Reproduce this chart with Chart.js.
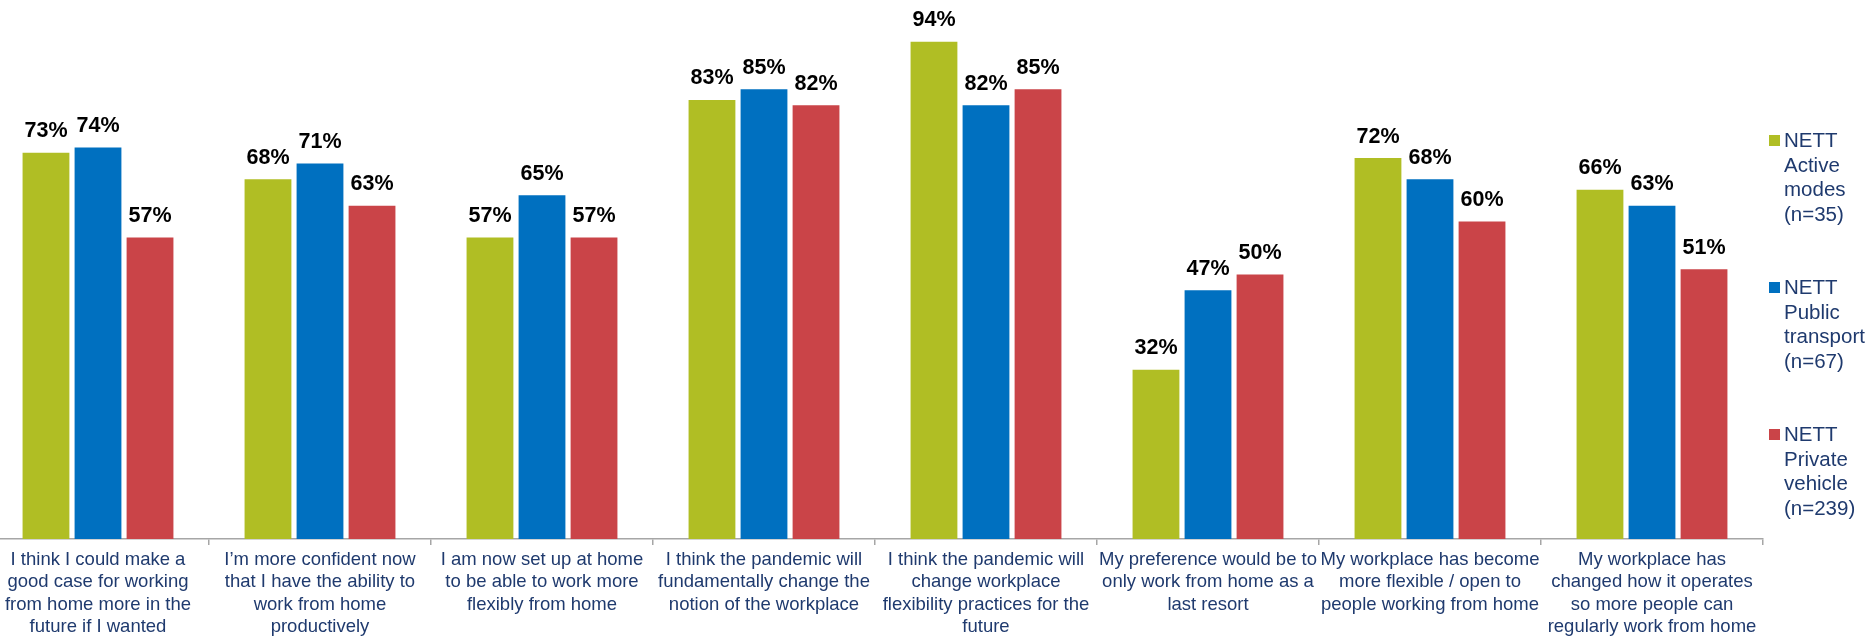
<!DOCTYPE html>
<html><head><meta charset="utf-8">
<script src="https://cdn.jsdelivr.net/npm/chart.js@4.4.0/dist/chart.umd.min.js"></script>
<style>
html,body{margin:0;padding:0;background:#fff;overflow:hidden;width:1872px;height:636px;}
#wrap{position:absolute;left:-13px;top:0;width:1885px;height:636px;}
canvas{display:block;}
</style></head><body>
<div id="wrap"><canvas id="c" width="1885" height="636"></canvas></div>
<script>
const categories = [
  ["I think I could make a", "good case for working", "from home more in the", "future if I wanted"],
  ["I\u2019m more confident now", "that I have the ability to", "work from home", "productively"],
  ["I am now set up at home", "to be able to work more", "flexibly from home"],
  ["I think the pandemic will", "fundamentally change the", "notion of the workplace"],
  ["I think the pandemic will", "change workplace", "flexibility practices for the", "future"],
  ["My preference would be to", "only work from home as a", "last resort"],
  ["My workplace has become", "more flexible / open to", "people working from home"],
  ["My workplace has", "changed how it operates", "so more people can", "regularly work from home"]
];
const seriesLabels = [
  ["NETT", "Active", "modes", "(n=35)"],
  ["NETT", "Public", "transport", "(n=67)"],
  ["NETT", "Private", "vehicle", "(n=239)"]
];
const activeModes     = [73, 68, 57, 83, 94, 32, 72, 66];
const publicTransport = [74, 71, 65, 85, 82, 47, 68, 63];
const privateVehicle  = [57, 63, 57, 82, 85, 50, 60, 51];
const seriesColors = ["#B0BE24", "#0070C0", "#CA4448"];

const valueLabels = {
  id: 'valueLabels',
  afterDatasetsDraw(chart) {
    const ctx = chart.ctx;
    ctx.save();
    ctx.font = 'bold 21.5px "Liberation Sans", Arial, sans-serif';
    ctx.fillStyle = '#000';
    ctx.textAlign = 'center';
    ctx.textBaseline = 'alphabetic';
    chart.data.datasets.forEach((ds, i) => {
      chart.getDatasetMeta(i).data.forEach((bar, j) => {
        ctx.fillText(ds.data[j] + '%', bar.x, bar.y - 15.5);
      });
    });
    ctx.restore();
  }
};

const sideLegend = {
  id: 'sideLegend',
  afterDraw(chart) {
    const ctx = chart.ctx;
    ctx.save();
    ctx.font = '20.5px "Liberation Sans", Arial, sans-serif';
    ctx.textAlign = 'left';
    ctx.textBaseline = 'alphabetic';
    const x0 = 1769 + 13;
    chart.data.datasets.forEach((ds, i) => {
      const base = 147 + i * 147;
      ctx.fillStyle = ds.backgroundColor;
      ctx.fillRect(x0, base - 12, 11, 11);
      ctx.fillStyle = '#1F3A6E';
      seriesLabels[i].forEach((line, k) => {
        ctx.fillText(line, x0 + 15, base + k * 24.6);
      });
    });
    ctx.restore();
  }
};

new Chart(document.getElementById('c'), {
  type: 'bar',
  data: {
    labels: categories,
    datasets: [
      { label: seriesLabels[0].join(' '), data: activeModes, backgroundColor: seriesColors[0] },
      { label: seriesLabels[1].join(' '), data: publicTransport, backgroundColor: seriesColors[1] },
      { label: seriesLabels[2].join(' '), data: privateVehicle, backgroundColor: seriesColors[2] }
    ]
  },
  options: {
    responsive: false,
    animation: false,
    devicePixelRatio: 1,
    layout: { padding: { left: 0, right: 109, top: 10, bottom: 0 } },
    datasets: { bar: { categoryPercentage: 0.703, barPercentage: 0.9 } },
    plugins: { legend: { display: false }, tooltip: { enabled: false }, title: { display: false } },
    scales: {
      y: { display: false, min: 0, max: 100 },
      x: {
        afterFit(scale) { scale.height = 97; },
        border: { display: true, color: '#A6A6A6', width: 1.5 },
        grid: { display: true, drawOnChartArea: false, drawTicks: true, tickLength: 6, color: '#A6A6A6', lineWidth: 1.5, offset: true },
        ticks: {
          autoSkip: false, maxRotation: 0, minRotation: 0, padding: 4,
          color: '#1F3A6E',
          font: { family: '"Liberation Sans", Arial, sans-serif', size: 18.5, lineHeight: 1.2 }
        }
      }
    }
  },
  plugins: [valueLabels, sideLegend]
});
</script>
</body></html>
